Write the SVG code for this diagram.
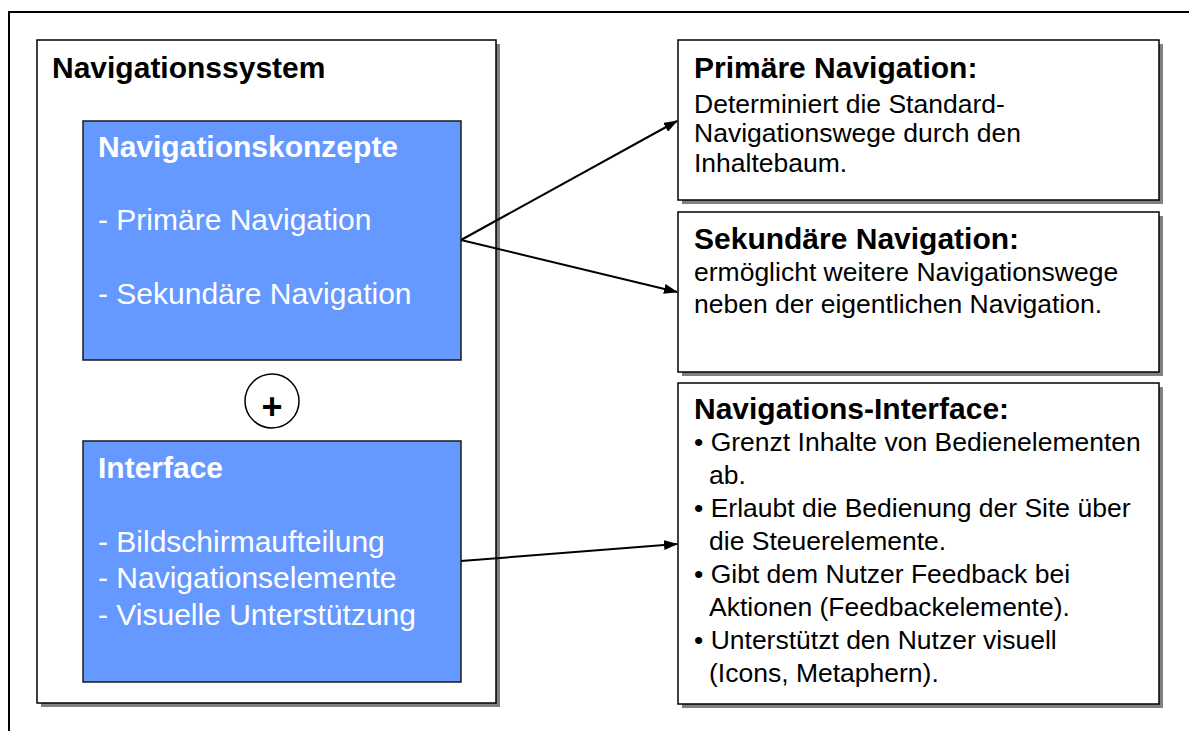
<svg xmlns="http://www.w3.org/2000/svg" width="1189" height="731" viewBox="0 0 1189 731">
<style>
.shadow{fill:#808080;}
.frame{fill:#fff;stroke:#000;stroke-width:1.5;}
.blue{fill:#6699FF;stroke:#1a1a1a;stroke-width:1.5;}
.t{font-family:"Liberation Sans",Arial,sans-serif;}
.h{font-weight:bold;font-size:30px;}
.wb{font-size:30px;fill:#fff;}
.body{font-size:26.5px;fill:#000;}
.conn{stroke:#000;stroke-width:2;fill:none;marker-end:url(#ah);}
</style>
<defs>
<marker id="ah" markerWidth="14" markerHeight="10" refX="13" refY="5" orient="auto" markerUnits="userSpaceOnUse">
<path d="M0,0 L14,5 L0,10 Z" fill="#000"/>
</marker>
</defs>
<rect x="0" y="0" width="1189" height="731" fill="#fff"/>
<path d="M9,731 L9,12 L1189,12" fill="none" stroke="#000" stroke-width="2"/>

<g id="navigationssystem">
<rect class="shadow" x="41" y="44" width="459" height="663"/>
<rect class="frame" x="37" y="40" width="459" height="663" stroke="#333"/>
<text class="t h" x="52" y="78">Navigationssystem</text>
</g>

<g id="navigationskonzepte">
<rect class="blue" x="83" y="121" width="378" height="239"/>
<text class="t wb" x="98" y="157" font-weight="bold">Navigationskonzepte</text>
<text class="t wb" x="98" y="230">- Primäre Navigation</text>
<text class="t wb" x="98" y="304">- Sekundäre Navigation</text>
</g>

<g id="plus">
<circle cx="272" cy="401" r="27" fill="#fff" stroke="#000" stroke-width="1.5"/>
<text class="t" x="272" y="419" font-size="36" font-weight="bold" text-anchor="middle">+</text>
</g>

<g id="interface">
<rect class="blue" x="83" y="441" width="378" height="241"/>
<text class="t wb" x="98" y="478" font-weight="bold">Interface</text>
<text class="t wb" x="98" y="552">- Bildschirmaufteilung</text>
<text class="t wb" x="98" y="588">- Navigationselemente</text>
<text class="t wb" x="98" y="625">- Visuelle Unterstützung</text>
</g>

<g id="primaere">
<rect class="shadow" x="682" y="44" width="481" height="160"/>
<rect class="frame" x="678" y="40" width="481" height="160"/>
<text class="t h" x="694" y="78">Primäre Navigation:</text>
<text class="t body" x="694" y="113">Determiniert die Standard-</text>
<text class="t body" x="694" y="142">Navigationswege durch den</text>
<text class="t body" x="694" y="172">Inhaltebaum.</text>
</g>

<g id="sekundaere">
<rect class="shadow" x="682" y="216" width="481" height="160"/>
<rect class="frame" x="678" y="212" width="481" height="160"/>
<text class="t h" x="694" y="249">Sekundäre Navigation:</text>
<text class="t body" x="694" y="281">ermöglicht weitere Navigationswege</text>
<text class="t body" x="694" y="313">neben der eigentlichen Navigation.</text>
</g>

<g id="navinterface">
<rect class="shadow" x="682" y="387" width="481" height="321"/>
<rect class="frame" x="678" y="383" width="481" height="321"/>
<text class="t h" x="694" y="419">Navigations-Interface:</text>
<text class="t body" x="694" y="451">• Grenzt Inhalte von Bedienelementen</text>
<text class="t body" x="709" y="484">ab.</text>
<text class="t body" x="694" y="517">• Erlaubt die Bedienung der Site über</text>
<text class="t body" x="709" y="550">die Steuerelemente.</text>
<text class="t body" x="694" y="583">• Gibt dem Nutzer Feedback bei</text>
<text class="t body" x="709" y="616">Aktionen (Feedbackelemente).</text>
<text class="t body" x="694" y="649">• Unterstützt den Nutzer visuell</text>
<text class="t body" x="709" y="682">(Icons, Metaphern).</text>
</g>

<g id="connectors">
<line class="conn" x1="461" y1="240" x2="677" y2="121"/>
<line class="conn" x1="461" y1="240" x2="677" y2="292"/>
<line class="conn" x1="461" y1="561" x2="677" y2="544"/>
</g>
</svg>
